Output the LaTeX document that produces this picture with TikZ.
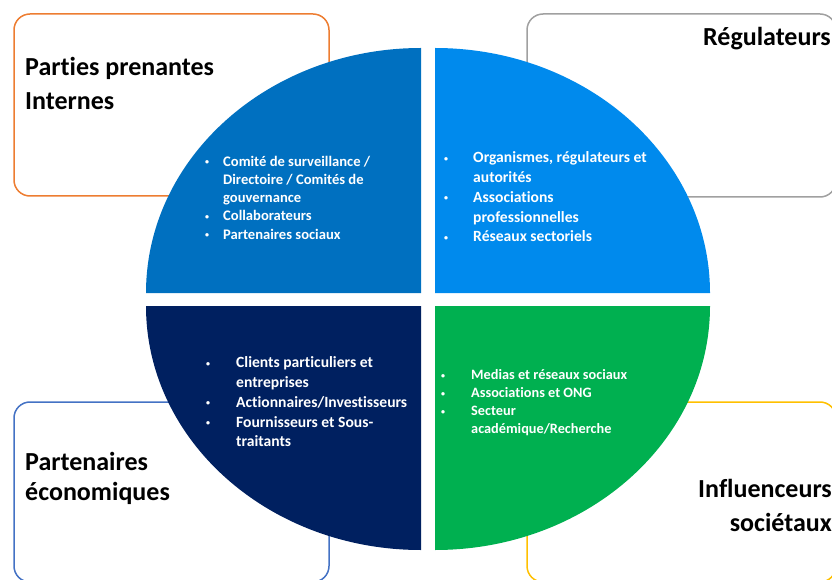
\documentclass[tikz,border=0pt]{standalone}
\usepackage{fontspec}
\setmainfont{Carlito}[Ligatures=NoCommon]
\newcommand{\puce}{{\fontsize{8}{8}\selectfont\raisebox{1.5pt}{\textbullet}}}
\begin{document}
\begin{tikzpicture}[x=1pt,y=1pt,
cadre/.style={line width=1.5pt,rounded corners=16pt},
liste/.style={anchor=north west,inner sep=0pt,text=white},
titre/.style={inner sep=0pt,font=\bfseries\fontsize{26}{34}\selectfont}]
\definecolor{bleu}{RGB}{0,112,192}
\definecolor{ciel}{RGB}{0,138,237}
\definecolor{marine}{RGB}{0,32,96}
\definecolor{vert}{RGB}{0,176,80}
\definecolor{orangec}{RGB}{237,125,49}
\definecolor{grisc}{RGB}{160,160,160}
\definecolor{bleuc}{RGB}{68,114,196}
\definecolor{jaunec}{RGB}{255,192,0}
\clip (0,0) rectangle (832,579);
% cadres des quatre familles
\draw[cadre,orangec] (14,565) rectangle (329,383);
\draw[cadre,grisc] (527,565) rectangle (836,382);
\draw[cadre,bleuc] (14,177) rectangle (329,-3);
\draw[cadre,jaunec] (527,177) rectangle (836,-3);
% quarts de disque
\fill[bleu] (421,286) -- (146,286) arc[start angle=180,end angle=90,x radius=275,y radius=245] -- cycle;
\fill[ciel] (435,286) -- (435,531) arc[start angle=90,end angle=0,x radius=275,y radius=245] -- cycle;
\fill[marine] (421,273) -- (146,273) arc[start angle=180,end angle=270,x radius=275,y radius=244] -- cycle;
\fill[vert] (435,273) -- (710,273) arc[start angle=0,end angle=-90,x radius=275,y radius=244] -- cycle;
% titres
\node[titre,anchor=north west] (internes) at (25,527) {\begin{tabular}{@{}l@{}}Parties prenantes\\Internes\end{tabular}};
\node[titre,anchor=base east] (regul) at (831,533) {R\'egulateurs};
\node[titre,anchor=north west,font=\bfseries\fontsize{26}{30}\selectfont] (eco) at (25,130) {\begin{tabular}{@{}l@{}}Partenaires\\\'economiques\end{tabular}};
\node[titre,anchor=north east] (societe) at (832,106) {\begin{tabular}{@{}r@{}}Influenceurs\\soci\'etaux\end{tabular}};
% listes
\node[liste,font=\bfseries\fontsize{14.6}{18.3}\selectfont] (listeint) at (205,426) {\begin{tabular}{@{}p{18pt}@{}l@{}}
\puce & Comit\'e de surveillance /\\
 & Directoire / Comit\'es de\\
 & gouvernance\\
\puce & Collaborateurs\\
\puce & Partenaires sociaux
\end{tabular}};
\node[liste,font=\bfseries\fontsize{15.6}{19.7}\selectfont] (listereg) at (444,430) {\begin{tabular}{@{}p{29pt}@{}l@{}}
\puce & Organismes, r\'egulateurs et\\
 & autorit\'es\\
\puce & Associations\\
 & professionnelles\\
\puce & R\'eseaux sectoriels
\end{tabular}};
\node[liste,font=\bfseries\fontsize{15.6}{19.7}\selectfont] (listeeco) at (206,225) {\begin{tabular}{@{}p{30pt}@{}l@{}}
\puce & Clients particuliers et\\
 & entreprises\\
\puce & Actionnaires/Investisseurs\\
\puce & Fournisseurs et Sous-\\
 & traitants
\end{tabular}};
\node[liste,font=\bfseries\fontsize{14.3}{18}\selectfont] (listesoc) at (441,212) {\begin{tabular}{@{}p{30pt}@{}l@{}}
\puce & Medias et r\'eseaux sociaux\\
\puce & Associations et ONG\\
\puce & Secteur\\
 & acad\'emique/Recherche
\end{tabular}};
\end{tikzpicture}
\end{document}
